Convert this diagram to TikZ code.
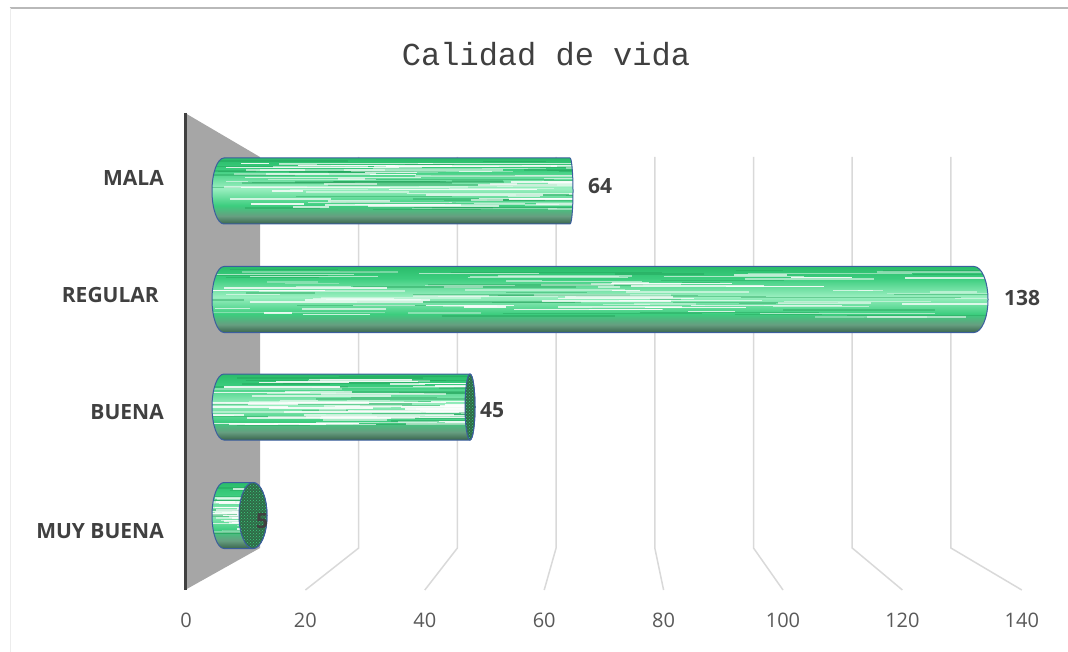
\documentclass[tikz,border=0pt]{standalone}
\usepackage{fontspec}
\setmainfont{Open Sans}
\newfontfamily\titlefont{Liberation Mono}
\usetikzlibrary{patterns}

\definecolor{txtgray}{HTML}{404040}
\definecolor{axgray}{HTML}{595959}
\definecolor{gridgray}{HTML}{D9D9D9}
\definecolor{wallgray}{HTML}{A6A6A6}
\definecolor{barTop}{HTML}{2ABC6A}
\definecolor{barLight}{HTML}{9AEFC0}
\definecolor{barMid}{HTML}{3CCD7E}
\definecolor{barShadow}{HTML}{669E80}
\definecolor{barDark}{HTML}{3A654D}
\definecolor{barStripe}{HTML}{1E9E55}
\definecolor{barEdge}{HTML}{3B5E9E}
\definecolor{capDark}{HTML}{2F6A47}

% the bar fills 25bp (bottom) to 75bp (top)
\pgfdeclareverticalshading{cylgreen}{100bp}{color(0bp)=(barDark); color(25bp)=(barDark); color(31bp)=(barShadow); color(39bp)=(barMid); color(52bp)=(barLight); color(66bp)=(barMid); color(75bp)=(barTop); color(100bp)=(barTop)}

\tikzset{
  grid/.style={draw=gridgray, line width=1.5pt},
  baredge/.style={draw=barEdge, line width=1pt},
  catlab/.style={font=\bfseries\fontsize{21}{25}\selectfont, text=txtgray, anchor=east, inner sep=0pt},
  vallab/.style={font=\bfseries\fontsize{21}{25}\selectfont, text=txtgray, inner sep=0pt},
  axislab/.style={font=\fontsize{20}{24}\selectfont, text=axgray, inner sep=0pt},
  titlelab/.style={font=\titlefont\fontsize{32}{38}\selectfont, text=txtgray, inner sep=0pt}
}

% one cylinder: centre y, end x, x radius of the right end
\newcommand{\cylbar}[3]{%
  \begin{scope}
    \clip (224,#1-33) -- (#2,#1-33)
      arc[start angle=90, end angle=-90, x radius=#3pt, y radius=33pt]
      -- (224,#1+33)
      arc[start angle=-90, end angle=-270, x radius=12pt, y radius=33pt] -- cycle;
    \shade[shading=cylgreen] (200,#1-33) rectangle (#2+16,#1+33);
    \foreach \k in {1,...,40}{
      \pgfmathsetmacro{\sy}{#1-31+rnd*50}
      \pgfmathsetmacro{\sx}{190+rnd*(#2-150)}
      \pgfmathsetmacro{\sl}{30+rnd*200}
      \draw[barStripe, line width=1.5pt, opacity=0.4] (\sx,\sy) -- ++(\sl,0);
    }
    \foreach \k in {1,...,80}{
      \pgfmathsetmacro{\sy}{#1-28+rnd*46}
      \pgfmathsetmacro{\sx}{190+rnd*(#2-150)}
      \pgfmathsetmacro{\sl}{20+rnd*160}
      \pgfmathsetmacro{\so}{0.3+0.6*rnd}
      \draw[white, line width=1.5pt, opacity=\so] (\sx,\sy) -- ++(\sl,0);
    }
  \end{scope}
  \draw[baredge] (224,#1-33) -- (#2,#1-33)
    arc[start angle=90, end angle=-90, x radius=#3pt, y radius=33pt]
    -- (224,#1+33)
    arc[start angle=-90, end angle=-270, x radius=12pt, y radius=33pt] -- cycle;
}

% visible end face: centre x, centre y, x radius
\newcommand{\capface}[3]{%
  \fill[capDark] (#1,#2) ellipse [x radius=#3pt, y radius=33pt];
  \fill[pattern=crosshatch dots, pattern color=barMid] (#1,#2) ellipse [x radius=#3pt, y radius=33pt];
  \draw[baredge] (#1,#2) ellipse [x radius=#3pt, y radius=33pt];
}

\begin{document}
\begin{tikzpicture}[x=1pt, y=-1pt]
  \useasboundingbox (0,0) rectangle (1068,652);
  \pgfmathsetseed{42}

  % frame
  \draw[gray!55, line width=2pt] (9.5,8) -- (1068,8);
  \draw[gray!15, line width=1pt] (10,8) -- (10,652);

  \node[titlelab] (title) at (546,54) {Calidad de vida};

  % wall and grid
  \fill[wallgray] (185,113) -- (260,157) -- (260,548) -- (185,590) -- cycle;
  \draw[txtgray, line width=3pt] (185,113) -- (185,590);
  \foreach \v in {20,40,...,140}
    \draw[grid] (260+4.935*\v,157) -- (260+4.935*\v,548) -- (186+5.97*\v,590);
  \foreach \v in {0,20,...,140}
    \node[axislab] (ax\v) at (186+5.97*\v,620) {\v};

  % bars
  \cylbar{191}{570}{3}
  \cylbar{299.5}{974}{14}
  \cylbar{407}{470}{5}
  \capface{470}{407}{5}
  \cylbar{515.5}{253}{14}
  \capface{253}{515.5}{14}

  % labels
  \node[catlab] (mala) at (164,178) {MALA};
  \node[catlab] (regular) at (159,295) {REGULAR};
  \node[catlab] (buena) at (164,412) {BUENA};
  \node[catlab] (muybuena) at (164,531) {MUY BUENA};

  \node[vallab] (v64) at (600,186) {64};
  \node[vallab] (v138) at (1022,298) {138};
  \node[vallab] (v45) at (492,410) {45};
  \node[vallab] (v5) at (262,521) {5};
\end{tikzpicture}
\end{document}
